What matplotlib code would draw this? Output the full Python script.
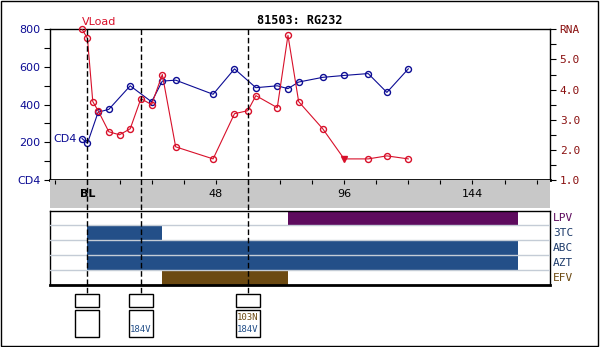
"""Průběh CD4 a virové nálady pacienta s přehledem léčby a mutací."""

import matplotlib
matplotlib.use("Agg")
import matplotlib.pyplot as plt
import matplotlib.transforms as mtransforms
from matplotlib.lines import Line2D
from matplotlib.patches import Rectangle

# CD4 (buňky/ul) podle týdne od BL
cd4_weeks = [-2, 0, 4, 8, 16, 24, 28, 33, 47, 55, 63, 71, 75, 79, 88, 96, 105, 112, 120]
cd4_vals = [220, 195, 360, 375, 500, 415, 525, 530, 455, 590, 490, 500, 485, 520,
            545, 555, 565, 465, 590]

# virová nálada (log10 RNA)
rna_weeks = [-2, 0, 2, 4, 8, 12, 16, 20, 24, 28, 33, 47, 55, 60, 63, 71, 75, 79,
             88, 96, 105, 112, 120]
rna_vals = [6.0, 5.7, 3.6, 3.3, 2.6, 2.5, 2.7, 3.7, 3.5, 4.5, 2.1, 1.7, 3.2, 3.3,
            3.8, 3.4, 5.8, 3.6, 2.7, 1.7, 1.7, 1.8, 1.7]
rna_below = [96]  # pod mezí detekce

# léky: název, začátek, konec (týdny)
drugs = ["LPV", "3TC", "ABC", "AZT", "EFV"]
drug_start = [75, 0, 0, 0, 28]
drug_end = [161, 28, 161, 161, 75]

# genotypy (týden, mutace NNRTI, mutace NRTI)
geno_weeks = [0, 20, 60]
geno_nnrti = ["", "", "103N"]
geno_nrti = ["", "184V", "184V"]

x_ticks = [0, 48, 96, 144]
x_labels = ["BL", "48", "96", "144"]

BLUE = "#0c0c94"
RED = "#d8102a"
PURPLE = "#5e0b5e"
DBLUE = "#234f88"
BROWN = "#6c4a12"

W, H = 600, 347
fig = plt.figure(figsize=(W / 100, H / 100), dpi=100)


def box(x0, y0, x1, y1):
    return [x0 / W, 1 - y1 / H, (x1 - x0) / W, (y1 - y0) / H]


XMIN, XMAX = -14, 173

# horní graf
ax = fig.add_axes(box(50, 29.3, 550, 180))
ax.set_xlim(XMIN, XMAX)
ax.set_ylim(0, 800)
ax.plot(cd4_weeks, cd4_vals, "-", color=BLUE, lw=0.8, marker="o", ms=4.3,
        mfc="none", mec=BLUE, mew=1, clip_on=False, zorder=3)
ax.set_xticks([])
ax.set_yticks(range(0, 801, 200))
ax.set_yticks(range(100, 800, 200), minor=True)
ax.set_yticklabels(["CD4", "200", "400", "600", "800"])
ax.tick_params(axis="y", which="both", direction="out", length=4, width=0.8,
               colors="black", labelcolor=BLUE, labelsize=8, pad=3)
for s in ["left", "top", "right"]:
    ax.spines[s].set_linewidth(1)
ax.spines["bottom"].set_linewidth(2)

ax2 = ax.twinx()
ax2.set_xlim(XMIN, XMAX)
ax2.set_ylim(1, 6)
ok = [(w, v) for w, v in zip(rna_weeks, rna_vals) if w not in rna_below]
ax2.plot(rna_weeks, rna_vals, "-", color=RED, lw=0.8, zorder=3)
ax2.plot([w for w, _ in ok], [v for _, v in ok], "o", ms=4.3, mfc="none", mec=RED,
         mew=1, clip_on=False, zorder=4)
ax2.plot(rna_below, [v for w, v in zip(rna_weeks, rna_vals) if w in rna_below],
         "v", ms=4.5, color=RED, zorder=4)
ax2.set_yticks([1, 2, 3, 4, 5, 6])
ax2.set_yticks([1.5, 2.5, 3.5, 4.5, 5.5], minor=True)
ax2.set_yticklabels(["1.0", "2.0", "3.0", "4.0", "5.0", "RNA"], family="DejaVu Sans Mono")
ax2.tick_params(axis="y", which="both", direction="out", length=4, width=0.8,
                colors="black", labelcolor="#8a1010", labelsize=8, pad=3)
for s in ax2.spines.values():
    s.set_visible(False)

ax.text(cd4_weeks[0], 812, "VLoad", color=RED, fontsize=8, ha="left", va="bottom",
        transform=ax.transData)
ax.text(cd4_weeks[0] - 2, cd4_vals[0], "CD4", color=BLUE, fontsize=8, ha="right",
        va="center")

fig.text(300 / W, 1 - 20 / H, "81503: RG232", ha="center", va="center",
         family="DejaVu Sans Mono", weight="bold", fontsize=8.5)

# šedý pás s osou x
axb = fig.add_axes(box(50, 180, 550, 208))
axb.set_facecolor("#c8c8c8")
axb.set_xlim(XMIN, XMAX)
axb.set_ylim(0, 1)
for s in axb.spines.values():
    s.set_visible(False)
axb.set_yticks([])
axb.set_xticks(range(-12, XMAX, 12))
axb.xaxis.set_ticks_position("top")
axb.tick_params(axis="x", direction="in", length=3, width=0.8, labeltop=False)
for t, lab in zip(x_ticks, x_labels):
    axb.text(t, 0.5, lab, ha="center", va="center", fontsize=8,
             weight="bold" if lab == "BL" else "normal")

# léčba
axd = fig.add_axes(box(50, 210.5, 550, 285))
axd.set_xlim(XMIN, XMAX)
axd.set_ylim(0, len(drugs))
drug_colors = {"LPV": PURPLE, "3TC": DBLUE, "ABC": DBLUE, "AZT": DBLUE, "EFV": BROWN}
label_colors = {"LPV": PURPLE, "3TC": "#1c3a6a", "ABC": "#1c3a6a", "AZT": "#1c3a6a",
                "EFV": BROWN}
for i, (d, a, b) in enumerate(zip(drugs, drug_start, drug_end)):
    y = len(drugs) - 1 - i
    axd.barh(y, b - a, left=a, height=1, align="edge", color=drug_colors[d], lw=0)
    axd.text(1.006, (y + 0.5) / len(drugs), d, transform=axd.transAxes,
             family="DejaVu Sans Mono", fontsize=8, color=label_colors[d],
             ha="left", va="center")
for y in range(1, len(drugs)):
    axd.axhline(y, color="#c4ccd6", lw=1, zorder=3)
axd.set_xticks([])
axd.set_yticks([])
for s in ["left", "top", "right"]:
    axd.spines[s].set_linewidth(1)
axd.spines["bottom"].set_linewidth(2)

# genotypy
axg = fig.add_axes(box(50, 285, 550, 347))
axg.set_xlim(XMIN, XMAX)
axg.set_ylim(347, 285)
axg.axis("off")
for w, m1, m2 in zip(geno_weeks, geno_nnrti, geno_nrti):
    axg.add_patch(Rectangle((w - 4.5, 294), 9, 13, fill=False, lw=1, ec="black"))
    axg.add_patch(Rectangle((w - 4.5, 310), 9, 26.5, fill=False, lw=1, ec="black"))
    axg.text(w, 317.5, m1, ha="center", va="center", family="DejaVu Sans Mono",
             fontsize=6.5, color=BROWN)
    axg.text(w, 330, m2, ha="center", va="center", family="DejaVu Sans Mono",
             fontsize=6.5, color=DBLUE)

# svislé čáry v týdnech genotypizace
trans = mtransforms.blended_transform_factory(ax.transData, fig.transFigure)
for w in geno_weeks:
    fig.add_artist(Line2D([w, w], [1 - 29.3 / H, 1 - 294 / H], transform=trans,
                          color="black", lw=1, ls=(0, (4, 2)), zorder=5))

# rámeček okolo obrázku
fig.add_artist(Rectangle((0.5 / W, 1 - 345.5 / H), 597.5 / W, 345 / H,
                         transform=fig.transFigure, fill=False, lw=1, ec="black"))

plt.savefig("out.png", dpi=100)
